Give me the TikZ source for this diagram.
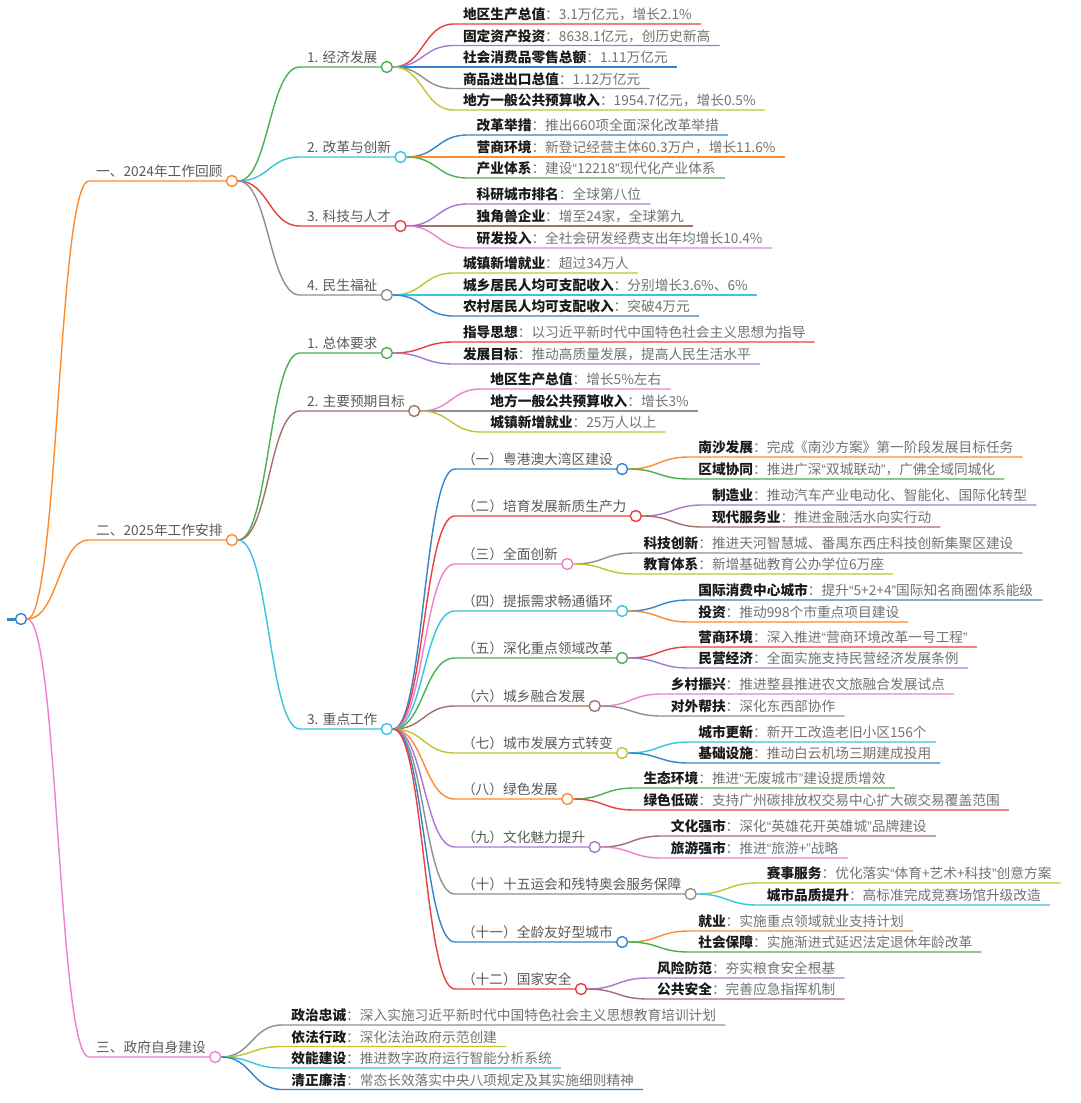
\documentclass[tikz,border=0pt]{standalone}
\usepackage{fontspec}
\setmainfont{Noto Sans CJK SC}
\newfontfamily\latinq{Liberation Sans}
\usetikzlibrary{calc}
\pgfdeclarelayer{back}
\pgfdeclarelayer{bg}
\pgfsetlayers{back,bg,main}
\definecolor{cblue}{HTML}{3584C9}
\definecolor{corange}{HTML}{FF8A2B}
\definecolor{cgreen}{HTML}{4CAF50}
\definecolor{cred}{HTML}{E8403F}
\definecolor{cpurple}{HTML}{A678D6}
\definecolor{cbrown}{HTML}{A6706A}
\definecolor{cpink}{HTML}{EC82CC}
\definecolor{cgray}{HTML}{8F8F8F}
\definecolor{colive}{HTML}{C4C42E}
\definecolor{ccyan}{HTML}{36C6DF}
\definecolor{lblc}{HTML}{5A5A5A}
\definecolor{keyc}{HTML}{1A1A1A}
\definecolor{valc}{HTML}{737373}
\newcommand\fs{\fontsize{13.7}{16}\selectfont}
\newcommand\qo{{\latinq “}}
\newcommand\qc{{\latinq ”}}
\tikzset{
  conn/.style={line width=1.4pt},
  curve/.style={to path={let \p1=(\tikztostart), \p2=(\tikztotarget) in
     .. controls ({0.5*\x1+0.5*\x2},\y1) and ({0.5*\x1+0.5*\x2},\y2) .. (\tikztotarget)}},
  dot/.style={circle, draw, fill=white, line width=1.4pt, minimum size=11pt, inner sep=0pt},
  lbl/.style={inner xsep=0pt, inner ysep=0pt, text height=11pt, text depth=4pt, text=lblc, font=\fs},
  leaf/.style={inner xsep=9pt, inner ysep=0pt, text height=11pt, text depth=4pt, font=\fs},
}
\newcommand\Br[6]{%
  \path let \p1=(#2.center) in coordinate (#1s) at ({\x1+68pt},{-#5pt});
  \node[lbl, anchor=south west] (#1t) at ([xshift=7pt]#1s) {#6};
  \node[dot, draw=#3, anchor=west] (#1) at ([xshift=3pt]#1t.south east) {};
  \begin{pgfonlayer}{bg}\draw[conn,#3] (#2.east) to[curve] (#1s) -- (#1.center);\end{pgfonlayer}%
}
\newcommand\Lf[7]{%
  \path let \p1=(#2.center) in node[leaf, anchor=south west] (#1) at ({\x1+67pt},{-#5pt})
     {\textbf{\color{keyc}#6}\color{valc}：#7};
  \begin{pgfonlayer}{bg}\draw[conn,#3] (#2.east) to[curve] (#1.south west) -- (#1.south east);\end{pgfonlayer}%
}
\begin{document}
\begin{tikzpicture}[x=1pt,y=-1pt]
\begin{pgfonlayer}{back}
\fill[white] (0,0) rectangle (1080,1103);
\end{pgfonlayer}
\useasboundingbox (0,0) rectangle (1080,1103);
% root
\node[dot, draw=cblue] (root) at (21,619) {};
\coordinate (rootbar) at (7,619);
\begin{pgfonlayer}{bg}\draw[cblue, line width=3pt] (rootbar) -- (root.center);\end{pgfonlayer}
% level 1
\Br{A}{root}{corange}{0}{181}{一、2024年工作回顾}
\Br{B}{root}{corange}{0}{540}{二、2025年工作安排}
\Br{C}{root}{cpink}{0}{1057}{三、政府自身建设}
% level 2
\Br{E}{A}{cgreen}{0}{67}{1. 经济发展}
\Br{R}{A}{ccyan}{0}{157}{2. 改革与创新}
\Br{T}{A}{cred}{0}{226}{3. 科技与人才}
\Br{M}{A}{cgray}{0}{295}{4. 民生福祉}
\Br{G}{B}{cgreen}{0}{353}{1. 总体要求}
\Br{P}{B}{cbrown}{0}{411}{2. 主要预期目标}
\Br{K}{B}{ccyan}{0}{729}{3. 重点工作}
% leaves of 经济发展
\Lf{e1}{E}{cred}{0}{24}{地区生产总值}{3.1万亿元，增长2.1\%}
\Lf{e2}{E}{cpurple}{0}{45.5}{固定资产投资}{8638.1亿元，创历史新高}
\Lf{e3}{E}{cblue}{0}{67}{社会消费品零售总额}{1.11万亿元}
\Lf{e4}{E}{cgray}{0}{88.5}{商品进出口总值}{1.12万亿元}
\Lf{e5}{E}{colive}{0}{110}{地方一般公共预算收入}{1954.7亿元，增长0.5\%}
% 改革与创新
\Lf{r1}{R}{cblue}{0}{135}{改革举措}{推出660项全面深化改革举措}
\Lf{r2}{R}{corange}{0}{157}{营商环境}{新登记经营主体60.3万户，增长11.6\%}
\Lf{r3}{R}{cgreen}{0}{178}{产业体系}{建设\qo{}12218\qc{}现代化产业体系}
% 科技与人才
\Lf{t1}{T}{cpurple}{0}{204}{科研城市排名}{全球第八位}
\Lf{t2}{T}{cbrown}{0}{226}{独角兽企业}{增至24家，全球第九}
\Lf{t3}{T}{cpink}{0}{248}{研发投入}{全社会研发经费支出年均增长10.4\%}
% 民生福祉
\Lf{m1}{M}{colive}{0}{273}{城镇新增就业}{超过34万人}
\Lf{m2}{M}{ccyan}{0}{295}{城乡居民人均可支配收入}{分别增长3.6\%、6\%}
\Lf{m3}{M}{cblue}{0}{316}{农村居民人均可支配收入}{突破4万元}
% 总体要求
\Lf{g1}{G}{cred}{0}{342}{指导思想}{以习近平新时代中国特色社会主义思想为指导}
\Lf{g2}{G}{cpurple}{0}{364}{发展目标}{推动高质量发展，提高人民生活水平}
% 主要预期目标
\Lf{p1}{P}{cpink}{0}{389}{地区生产总值}{增长5\%左右}
\Lf{p2}{P}{cgray}{0}{411}{地方一般公共预算收入}{增长3\%}
\Lf{p3}{P}{colive}{0}{432}{城镇新增就业}{25万人以上}
% 重点工作
\Br{K1}{K}{cblue}{0}{469}{（一）粤港澳大湾区建设}
\Br{K2}{K}{cred}{0}{516}{（二）培育发展新质生产力}
\Br{K3}{K}{cpink}{0}{564}{（三）全面创新}
\Br{K4}{K}{ccyan}{0}{611}{（四）提振需求畅通循环}
\Br{K5}{K}{cgreen}{0}{658}{（五）深化重点领域改革}
\Br{K6}{K}{cbrown}{0}{706}{（六）城乡融合发展}
\Br{K7}{K}{colive}{0}{753}{（七）城市发展方式转变}
\Br{K8}{K}{corange}{0}{799}{（八）绿色发展}
\Br{K9}{K}{cpurple}{0}{847}{（九）文化魅力提升}
\Br{K10}{K}{cgray}{0}{894}{（十）十五运会和残特奥会服务保障}
\Br{K11}{K}{cblue}{0}{942}{（十一）全龄友好型城市}
\Br{K12}{K}{cred}{0}{989}{（十二）国家安全}
\Lf{k1a}{K1}{corange}{0}{457}{南沙发展}{完成《南沙方案》第一阶段发展目标任务}
\Lf{k1b}{K1}{cgreen}{0}{479}{区域协同}{推进广深\qo{}双城联动\qc{}，广佛全域同城化}
\Lf{k2a}{K2}{cpurple}{0}{505}{制造业}{推动汽车产业电动化、智能化、国际化转型}
\Lf{k2b}{K2}{cbrown}{0}{527}{现代服务业}{推进金融活水向实行动}
\Lf{k3a}{K3}{cgray}{0}{553}{科技创新}{推进天河智慧城、番禺东西庄科技创新集聚区建设}
\Lf{k3b}{K3}{colive}{0}{574}{教育体系}{新增基础教育公办学位6万座}
\Lf{k4a}{K4}{cblue}{0}{600}{国际消费中心城市}{提升\qo{}5+2+4\qc{}国际知名商圈体系能级}
\Lf{k4b}{K4}{corange}{0}{622}{投资}{推动998个市重点项目建设}
\Lf{k5a}{K5}{cred}{0}{647}{营商环境}{深入推进\qo{}营商环境改革一号工程\qc{}}
\Lf{k5b}{K5}{cpurple}{0}{668}{民营经济}{全面实施支持民营经济发展条例}
\Lf{k6a}{K6}{cpink}{0}{694}{乡村振兴}{推进整县推进农文旅融合发展试点}
\Lf{k6b}{K6}{cgray}{0}{716}{对外帮扶}{深化东西部协作}
\Lf{k7a}{K7}{ccyan}{0}{742}{城市更新}{新开工改造老旧小区156个}
\Lf{k7b}{K7}{cblue}{0}{763}{基础设施}{推动白云机场三期建成投用}
\Lf{k8a}{K8}{cgreen}{0}{788}{生态环境}{推进\qo{}无废城市\qc{}建设提质增效}
\Lf{k8b}{K8}{cred}{0}{810}{绿色低碳}{支持广州碳排放权交易中心扩大碳交易覆盖范围}
\Lf{k9a}{K9}{cbrown}{0}{836}{文化强市}{深化\qo{}英雄花开英雄城\qc{}品牌建设}
\Lf{k9b}{K9}{cpink}{0}{858}{旅游强市}{推进\qo{}旅游+\qc{}战略}
\Lf{k10a}{K10}{colive}{0}{883}{赛事服务}{优化落实\qo{}体育+艺术+科技\qc{}创意方案}
\Lf{k10b}{K10}{ccyan}{0}{905}{城市品质提升}{高标准完成竞赛场馆升级改造}
\Lf{k11a}{K11}{corange}{0}{931}{就业}{实施重点领域就业支持计划}
\Lf{k11b}{K11}{cgreen}{0}{952}{社会保障}{实施渐进式延迟法定退休年龄改革}
\Lf{k12a}{K12}{cpurple}{0}{978}{风险防范}{夯实粮食安全根基}
\Lf{k12b}{K12}{cbrown}{0}{999}{公共安全}{完善应急指挥机制}
% 政府自身建设
\Lf{s1}{C}{cgray}{0}{1025}{政治忠诚}{深入实施习近平新时代中国特色社会主义思想教育培训计划}
\Lf{s2}{C}{colive}{0}{1046.5}{依法行政}{深化法治政府示范创建}
\Lf{s3}{C}{ccyan}{0}{1068}{效能建设}{推进数字政府运行智能分析系统}
\Lf{s4}{C}{cblue}{0}{1089.5}{清正廉洁}{常态长效落实中央八项规定及其实施细则精神}
\end{tikzpicture}
\end{document}
